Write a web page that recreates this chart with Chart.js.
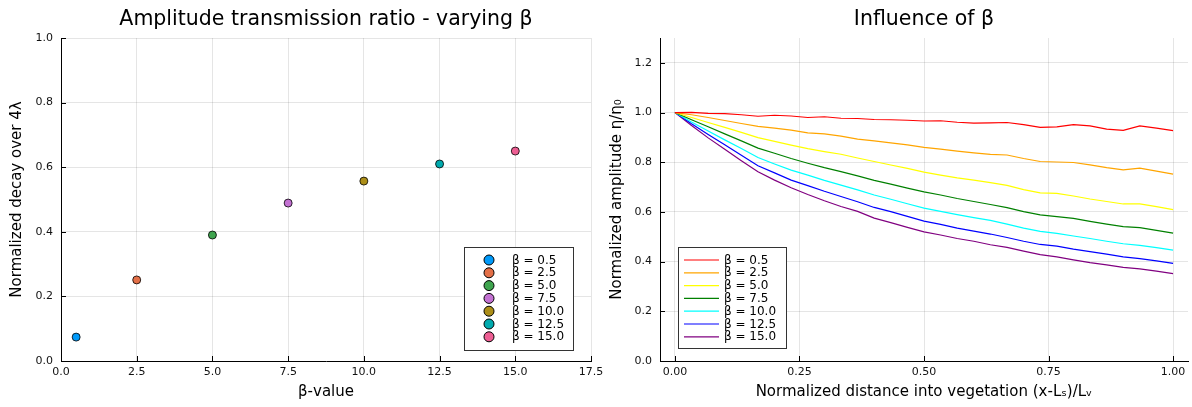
<!DOCTYPE html>
<html>
<head>
<meta charset="utf-8">
<script src="https://cdn.jsdelivr.net/npm/chart.js@4.4.1/dist/chart.umd.min.js"></script>
<style>
  html, body { margin: 0; padding: 0; background: #fff; }
  #wrap { position: relative; width: 1192px; height: 407px; overflow: hidden; }
  .pane { position: absolute; top: 0; height: 407px; }
  #leftPane { left: 0; width: 620px; }
  #rightPane { left: 596px; width: 596px; }
</style>
</head>
<body>
<div id="wrap">
  <div class="pane" id="leftPane"><canvas id="left" width="620" height="407"></canvas></div>
  <div class="pane" id="rightPane"><canvas id="right" width="596" height="407"></canvas></div>
</div>
<script>
// ---- Left panel: decay ratio per beta ----
const betaValues = [0.5, 2.5, 5.0, 7.5, 10.0, 12.5, 15.0];
const decayRatio = [0.074, 0.251, 0.390, 0.489, 0.557, 0.610, 0.650];
const betaLabels = ['β = 0.5', 'β = 2.5', 'β = 5.0', 'β = 7.5', 'β = 10.0', 'β = 12.5', 'β = 15.0'];
const leftXTicks = [0, 2.5, 5, 7.5, 10, 12.5, 15, 17.5];
const leftYTicks = [0, 0.2, 0.4, 0.6, 0.8, 1.0];

// ---- Right panel: amplitude along the vegetation ----
const distance = [0, 0.0333, 0.0667, 0.1, 0.1333, 0.1667, 0.2, 0.2333, 0.2667, 0.3,
  0.3333, 0.3667, 0.4, 0.4333, 0.4667, 0.5, 0.5333, 0.5667, 0.6, 0.6333,
  0.6667, 0.7, 0.7333, 0.7667, 0.8, 0.8333, 0.8667, 0.9, 0.9333, 0.9667, 1.0];
const ampBeta0p5 = [1.000, 1.001, 0.997, 0.996, 0.991, 0.985, 0.989, 0.986, 0.980, 0.983,
  0.977, 0.976, 0.972, 0.971, 0.969, 0.966, 0.967, 0.961, 0.957, 0.958,
  0.960, 0.951, 0.940, 0.942, 0.951, 0.946, 0.933, 0.928, 0.946, 0.937, 0.927];
const ampBeta2p5 = [1.000, 0.991, 0.980, 0.968, 0.956, 0.944, 0.937, 0.929, 0.918, 0.914,
  0.905, 0.893, 0.886, 0.878, 0.870, 0.860, 0.853, 0.845, 0.838, 0.832,
  0.829, 0.815, 0.803, 0.801, 0.799, 0.789, 0.778, 0.769, 0.776, 0.764, 0.752];
const ampBeta5p0 = [1.000, 0.980, 0.960, 0.940, 0.920, 0.899, 0.884, 0.869, 0.855, 0.843,
  0.832, 0.817, 0.803, 0.789, 0.775, 0.760, 0.748, 0.737, 0.728, 0.718,
  0.707, 0.690, 0.677, 0.675, 0.664, 0.652, 0.642, 0.632, 0.632, 0.621, 0.609];
const ampBeta7p5 = [1.000, 0.971, 0.943, 0.914, 0.886, 0.857, 0.836, 0.815, 0.796, 0.778,
  0.762, 0.745, 0.727, 0.712, 0.696, 0.681, 0.668, 0.654, 0.642, 0.630,
  0.617, 0.601, 0.588, 0.581, 0.574, 0.562, 0.551, 0.541, 0.537, 0.526, 0.515];
const ampBeta10p0 = [1.000, 0.962, 0.926, 0.890, 0.855, 0.819, 0.793, 0.768, 0.748, 0.727,
  0.708, 0.689, 0.668, 0.651, 0.633, 0.615, 0.602, 0.589, 0.577, 0.566,
  0.551, 0.535, 0.522, 0.514, 0.503, 0.493, 0.482, 0.472, 0.465, 0.456, 0.446];
const ampBeta12p5 = [1.000, 0.955, 0.912, 0.870, 0.828, 0.786, 0.757, 0.728, 0.706, 0.683,
  0.662, 0.641, 0.618, 0.601, 0.582, 0.563, 0.550, 0.535, 0.523, 0.511,
  0.497, 0.482, 0.469, 0.462, 0.450, 0.440, 0.430, 0.419, 0.412, 0.403, 0.393];
const ampBeta15p0 = [1.000, 0.948, 0.898, 0.852, 0.806, 0.762, 0.728, 0.697, 0.670, 0.645,
  0.622, 0.602, 0.575, 0.557, 0.538, 0.520, 0.507, 0.493, 0.482, 0.468,
  0.457, 0.442, 0.428, 0.419, 0.407, 0.396, 0.387, 0.377, 0.371, 0.362, 0.352];
const rightXTicks = [0, 0.25, 0.5, 0.75, 1.0];
const rightYTicks = [0, 0.2, 0.4, 0.6, 0.8, 1.0, 1.2];

const scatterColors = ['#009AFA', '#E36F47', '#3EA44E', '#C371D2', '#AC8E18', '#00AAAE', '#ED5E93'];
const lineColors = ['#FF0000', '#FFA500', '#FFFF00', '#008000', '#00FFFF', '#0000FF', '#800080'];
const ampSeries = [ampBeta0p5, ampBeta2p5, ampBeta5p0, ampBeta7p5, ampBeta10p0, ampBeta12p5, ampBeta15p0];

const FONT = "'DejaVu Sans', sans-serif";
const GRID = 'rgba(0,0,0,0.10)';
const INK = '#000';

// inward tick marks along the left and bottom axes
const innerTicks = {
  id: 'innerTicks',
  afterDraw(chart) {
    const ctx = chart.ctx, a = chart.chartArea;
    const len = 5;
    ctx.save();
    ctx.strokeStyle = INK;
    ctx.lineWidth = 1;
    ctx.beginPath();
    chart.scales.x.ticks.forEach(t => {
      const px = Math.round(chart.scales.x.getPixelForValue(t.value)) + 0.5;
      ctx.moveTo(px, a.bottom);
      ctx.lineTo(px, a.bottom - len);
    });
    chart.scales.y.ticks.forEach(t => {
      const py = Math.round(chart.scales.y.getPixelForValue(t.value)) + 0.5;
      ctx.moveTo(a.left, py);
      ctx.lineTo(a.left + len, py);
    });
    ctx.stroke();
    ctx.restore();
  }
};

// panel title centred over the plot area
const plotTitle = {
  id: 'plotTitle',
  afterDraw(chart, args, o) {
    const ctx = chart.ctx, a = chart.chartArea;
    ctx.save();
    ctx.font = o.size + 'px ' + FONT;
    ctx.fillStyle = '#000';
    ctx.textAlign = 'center';
    ctx.textBaseline = 'middle';
    ctx.fillText(o.text, (a.left + a.right) / 2, o.y);
    ctx.restore();
  }
};

// boxed legend placed inside the plot area
const boxLegend = {
  id: 'boxLegend',
  afterDraw(chart, args, o) {
    const ctx = chart.ctx;
    ctx.save();
    ctx.fillStyle = '#fff';
    ctx.fillRect(o.x, o.y, o.w, o.h);
    ctx.strokeStyle = '#333';
    ctx.lineWidth = 1;
    ctx.strokeRect(o.x + 0.5, o.y + 0.5, o.w, o.h);
    ctx.font = '12px ' + FONT;
    ctx.textBaseline = 'middle';
    ctx.textAlign = 'left';
    chart.data.datasets.forEach((ds, i) => {
      const cy = o.rowStart + i * o.rowStep;
      if (o.kind === 'marker') {
        ctx.beginPath();
        ctx.arc(o.symX, cy, 5, 0, Math.PI * 2);
        ctx.fillStyle = ds.backgroundColor;
        ctx.fill();
        ctx.strokeStyle = '#000';
        ctx.lineWidth = 1;
        ctx.stroke();
      } else {
        ctx.beginPath();
        ctx.moveTo(o.symX, cy);
        ctx.lineTo(o.symX + o.symW, cy);
        ctx.strokeStyle = ds.borderColor;
        ctx.lineWidth = 1.2;
        ctx.stroke();
      }
      ctx.fillStyle = '#000';
      ctx.fillText(ds.label, o.textX, cy + 0.5);
    });
    ctx.restore();
  }
};

function axis(min, max, tickValues, digits, extra) {
  return Object.assign({
    type: 'linear',
    min: min,
    max: max,
    afterBuildTicks: s => { s.ticks = tickValues.map(v => ({ value: v })); },
    grid: { color: GRID, lineWidth: 1, drawTicks: false },
    border: { display: true, color: INK, width: 1 },
    ticks: { color: '#111', font: { family: FONT, size: 11 }, callback: v => v.toFixed(digits), maxRotation: 0, autoSkip: false }
  }, extra);
}

function xAxis(min, max, tickValues, digits, label) {
  return axis(min, max, tickValues, digits, {
    ticks: { color: '#111', font: { family: FONT, size: 11 }, callback: v => v.toFixed(digits), maxRotation: 0, autoSkip: false, padding: 5 },
    title: { display: true, text: label, color: '#000', font: { family: FONT, size: 15 }, padding: { top: 0, bottom: 6 } },
    afterFit: s => { s.height = 46; s.paddingLeft = 0; s.paddingRight = 0; }
  });
}

function yAxis(min, max, tickValues, label, width, titlePad) {
  return axis(min, max, tickValues, 1, {
    ticks: { color: '#111', font: { family: FONT, size: 11 }, callback: v => v.toFixed(1), padding: 8 },
    title: { display: true, text: label, color: '#000', font: { family: FONT, size: 15 }, padding: { top: titlePad, bottom: 0 } },
    afterFit: s => { s.width = width; s.paddingTop = 0; s.paddingBottom = 0; }
  });
}

const basePlugins = {
  legend: { display: false },
  tooltip: { enabled: false },
  title: { display: false }
};

// Left: scatter of decay ratio
new Chart(document.getElementById('left'), {
  type: 'scatter',
  data: {
    datasets: betaValues.map((b, i) => ({
      label: betaLabels[i],
      data: [{ x: b, y: decayRatio[i] }],
      backgroundColor: scatterColors[i],
      borderColor: '#000',
      borderWidth: 0.8,
      pointRadius: 4
    }))
  },
  options: {
    responsive: false,
    animation: false,
    devicePixelRatio: 1,
    layout: { padding: { left: 0, right: 29, top: 38, bottom: 0 } },
    plugins: Object.assign({}, basePlugins, {
      plotTitle: { text: 'Amplitude transmission ratio - varying β', size: 20.5, y: 20 },
      boxLegend: { kind: 'marker', x: 464, y: 247, w: 109, h: 103, rowStart: 260, rowStep: 12.8, symX: 489, textX: 512 }
    }),
    scales: {
      x: xAxis(0, 17.5, leftXTicks, 1, 'β-value'),
      y: yAxis(0, 1, leftYTicks, 'Normalized decay over 4λ', 61, 8)
    }
  },
  plugins: [innerTicks, plotTitle, boxLegend]
});

// Right: amplitude curves
new Chart(document.getElementById('right'), {
  type: 'line',
  data: {
    datasets: ampSeries.map((arr, i) => ({
      label: betaLabels[i],
      data: distance.map((d, j) => ({ x: d, y: arr[j] })),
      borderColor: lineColors[i],
      backgroundColor: lineColors[i],
      borderWidth: 1.2,
      pointRadius: 0,
      tension: 0,
      fill: false
    }))
  },
  options: {
    responsive: false,
    animation: false,
    devicePixelRatio: 1,
    layout: { padding: { left: 0, right: 4, top: 38, bottom: 0 } },
    plugins: Object.assign({}, basePlugins, {
      plotTitle: { text: 'Influence of β', size: 20.5, y: 20 },
      boxLegend: { kind: 'line', x: 82, y: 247, w: 108, h: 101, rowStart: 260, rowStep: 12.8, symX: 88, symW: 35, textX: 128 }
    }),
    scales: {
      x: xAxis(-0.03, 1.03, rightXTicks, 2, 'Normalized distance into vegetation (x-Lₛ)/Lᵥ'),
      y: yAxis(0, 1.3, rightYTicks, 'Normalized amplitude η/η₀', 64, 12)
    }
  },
  plugins: [innerTicks, plotTitle, boxLegend]
});
</script>
</body>
</html>
